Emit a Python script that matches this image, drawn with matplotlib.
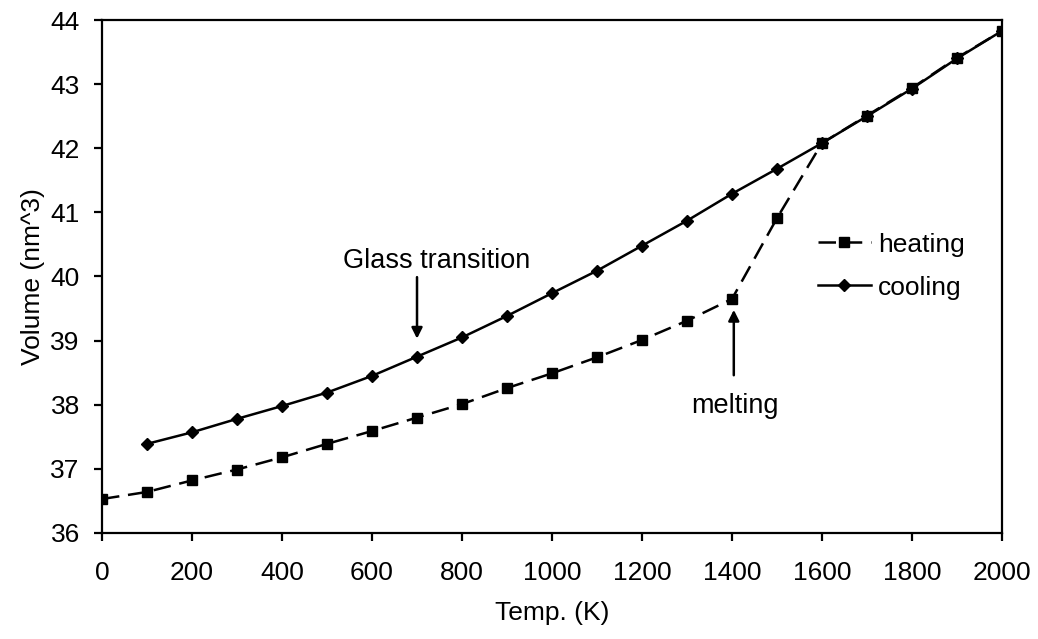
import numpy as np
import matplotlib
matplotlib.use('Agg')
import matplotlib.pyplot as plt

plt.rcParams['font.family'] = ['Liberation Sans', 'DejaVu Sans']

temp_heat = [0, 100, 200, 300, 400, 500, 600, 700, 800, 900, 1000,
             1100, 1200, 1300, 1400, 1500, 1600, 1700, 1800, 1900, 2000]
vol_heat = [36.53, 36.64, 36.82, 36.99, 37.18, 37.39, 37.59, 37.80, 38.01, 38.26, 38.49,
            38.74, 39.01, 39.31, 39.65, 40.91, 42.08, 42.51, 42.94, 43.41, 43.83]

temp_cool = [100, 200, 300, 400, 500, 600, 700, 800, 900, 1000,
             1100, 1200, 1300, 1400, 1500, 1600, 1700, 1800, 1900, 2000]
vol_cool = [37.39, 37.57, 37.78, 37.98, 38.19, 38.45, 38.75, 39.05, 39.385, 39.74,
            40.09, 40.48, 40.87, 41.29, 41.68, 42.08, 42.50, 42.93, 43.40, 43.83]

fig = plt.figure(figsize=(10.38, 6.39), dpi=100)
ax = fig.add_axes([0.0983, 0.1659, 0.867, 0.8028])

ax.plot(temp_cool, vol_cool, color='black', linestyle='-', linewidth=1.8,
        marker='D', markersize=6.3, label='cooling')
ax.plot(temp_heat, vol_heat, color='black', linestyle=(0, (7, 3.5)), linewidth=1.8,
        marker='s', markersize=7, label='heating')

ax.set_xlim(0, 2000)
ax.set_ylim(36, 44)
ax.set_xticks(np.arange(0, 2001, 200))
ax.set_yticks(np.arange(36, 45, 1))

for s in ax.spines.values():
    s.set_linewidth(1.6)
    s.set_color('black')
ax.tick_params(axis='both', direction='out', length=6, width=1.6, labelsize=19)
ax.tick_params(axis='x', pad=14)
ax.tick_params(axis='y', pad=10)

ax.set_xlabel('Temp. (K)', fontsize=19, labelpad=12)
ax.set_ylabel('Volume (nm^3)', fontsize=19, labelpad=4)

# arrows drawn separately from the text
ax.annotate('', xy=(700, 39.03), xytext=(700, 39.99),
            arrowprops=dict(arrowstyle='-|>', color='black', lw=1.8,
                            shrinkA=0, shrinkB=0, mutation_scale=16))
ax.text(744, 40.13, 'Glass transition', ha='center', va='baseline', fontsize=19.5)

ax.annotate('', xy=(1404, 39.48), xytext=(1404, 38.46),
            arrowprops=dict(arrowstyle='-|>', color='black', lw=1.8,
                            shrinkA=0, shrinkB=0, mutation_scale=16))
ax.text(1406, 37.87, 'melting', ha='center', va='baseline', fontsize=19.5)

h, l = ax.get_legend_handles_labels()
ax.legend(h[::-1], l[::-1], loc='center left', bbox_to_anchor=(0.7956, 0.52),
          frameon=False, fontsize=19, handlelength=2.0, handletextpad=0.27,
          labelspacing=0.72, borderpad=0, borderaxespad=0)

fig.savefig('out.png', dpi=100)
